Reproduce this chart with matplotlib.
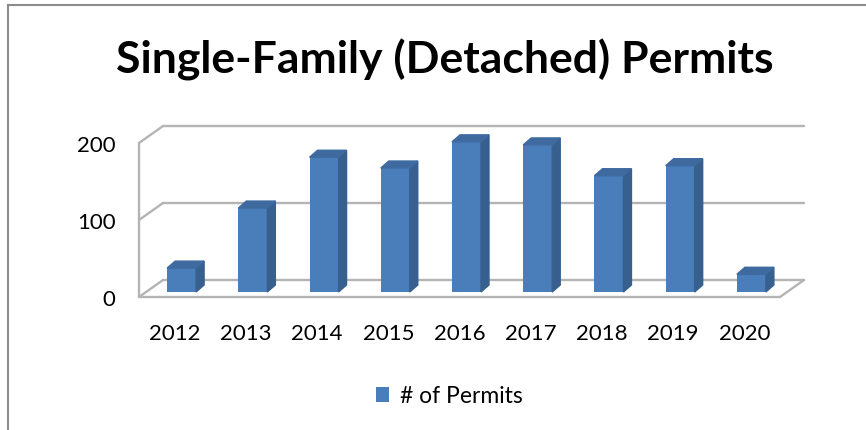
import matplotlib
matplotlib.use("Agg")
from matplotlib import pyplot as plt
from matplotlib.patches import Polygon
from matplotlib.lines import Line2D

years = ['2012', '2013', '2014', '2015', '2016', '2017', '2018', '2019', '2020']
permits = [31, 109, 175, 161, 195, 191, 151, 164, 23]
y_ticks = [0, 100, 200]

plt.rcParams['font.family'] = ['Lato', 'DejaVu Sans']

W, H = 866, 431
fig = plt.figure(figsize=(W / 100, H / 100), dpi=100)

# front plane of the fake 3d box: x -0.5..8.5 -> px 139..780, y 0..200 -> px 298..144
ax = fig.add_axes([139 / W, (H - 298) / H, 641 / W, 154 / H])
ax.set_xlim(-0.5, 8.5)
ax.set_ylim(0, 200)
for s in ax.spines.values():
    s.set_visible(False)

px_x = 641 / 9.0       # px per category
px_y = 154 / 200.0     # px per unit
depth_x = 24 / px_x    # back wall offset
depth_y = 17 / px_y
x0, x1 = -0.5, 8.5     # floor front edge

grid = dict(color='#b4b4b4', lw=1.7, clip_on=False, zorder=1, solid_capstyle='round')
for v in y_ticks:
    ax.plot([x0 + depth_x, x1 + depth_x], [v + depth_y, v + depth_y], **grid)
    ax.plot([x0, x0 + depth_x], [v, v + depth_y], **grid)
ax.plot([x0, x0], [0, 200], **grid)
ax.plot([x0, x1], [0, 0], **grid)
ax.plot([x1, x1 + depth_x], [0, depth_y], **grid)

# bars
xs = list(range(len(years)))
shift = 7 / px_x
base = 5 / px_y
bw = 29 / px_x
side_x = 8 / px_x
side_y = 7 / px_y
bars = ax.bar([x + shift for x in xs], permits, width=bw, bottom=base,
              color='#4a7ebb', zorder=3, clip_on=False, label='# of Permits')
for x, v in zip(xs, permits):
    xl = x + shift - bw / 2
    xr = x + shift + bw / 2
    top = base + v
    ax.add_patch(Polygon([(xr, base), (xr + side_x, base + side_y),
                          (xr + side_x, top + side_y), (xr, top)],
                         closed=True, color='#37608f', zorder=3, clip_on=False))
    ax.add_patch(Polygon([(xl, top), (xl + side_x, top + side_y),
                          (xr + side_x, top + side_y), (xr, top)],
                         closed=True, color='#3f6aa0', zorder=3, clip_on=False))

ax.set_yticks(y_ticks)
ax.set_yticklabels([str(t) for t in y_ticks])
ax.set_xticks(xs)
ax.set_xticklabels(years)
ax.tick_params(axis='both', length=0, labelsize=16, colors='black')
ax.tick_params(axis='y', pad=17)
ax.tick_params(axis='x', pad=19)

fig.text(445 / W, (H - 60) / H, 'Single-Family (Detached) Permits',
         ha='center', va='center', fontsize=32, fontweight='bold')

fig.legend(handles=[bars], loc='center', bbox_to_anchor=(449 / W, (H - 397) / H),
           frameon=False, fontsize=16.5, handlelength=0.6, handleheight=0.6,
           handletextpad=0.45)

# chart border
fig.add_artist(Line2D([8 / W, 8 / W], [0, (H - 6) / H], color='#8c8c8c', lw=1.5))
fig.add_artist(Line2D([8 / W, 1], [(H - 6) / H, (H - 6) / H], color='#8c8c8c', lw=1.5))

fig.savefig('out.png', dpi=100)
